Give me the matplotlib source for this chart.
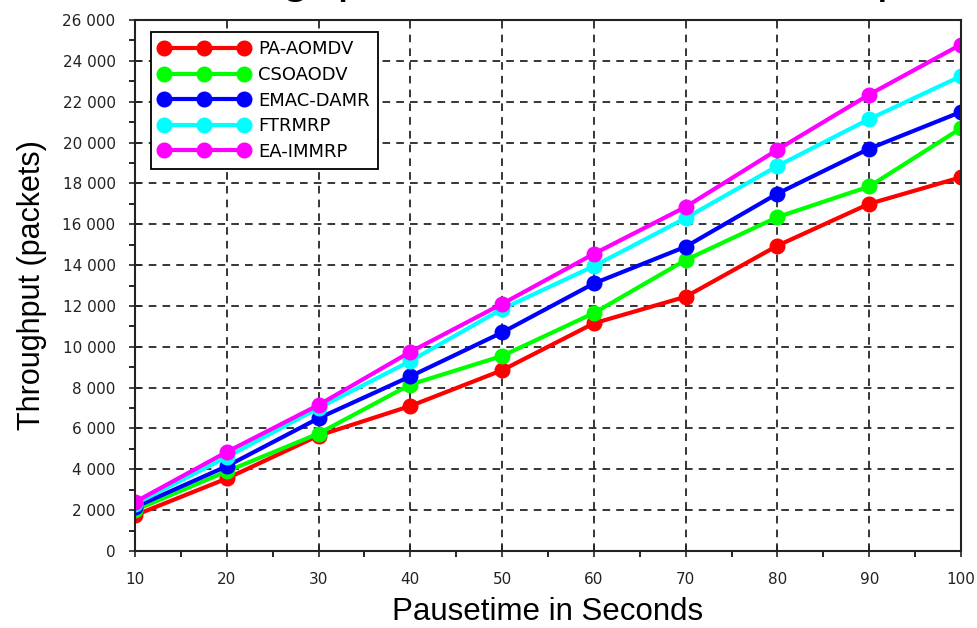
import numpy as np
import matplotlib
matplotlib.use("Agg")
import matplotlib.pyplot as plt
from matplotlib.ticker import MultipleLocator, FuncFormatter

plt.rcParams['font.family'] = ['Liberation Sans', 'DejaVu Sans']

pausetime = [10, 20, 30, 40, 50, 60, 70, 80, 90, 100]
pa_aomdv = [1750, 3550, 5650, 7100, 8850, 11150, 12450, 14950, 17000, 18300]
csoaodv = [2000, 3900, 5750, 8150, 9550, 11650, 14250, 16350, 17850, 20700]
emac_damr = [2150, 4150, 6500, 8550, 10700, 13100, 14900, 17500, 19700, 21500]
ftrmrp = [2300, 4600, 7000, 9300, 11850, 13950, 16300, 18850, 21150, 23250]
ea_immrp = [2400, 4850, 7150, 9750, 12100, 14550, 16850, 19650, 22350, 24800]

series = [
    ("PA-AOMDV", pa_aomdv, "#ff0000"),
    ("CSOAODV", csoaodv, "#00ff00"),
    ("EMAC-DAMR", emac_damr, "#0000ff"),
    ("FTRMRP", ftrmrp, "#00ffff"),
    ("EA-IMMRP", ea_immrp, "#ff00ff"),
]

fig = plt.figure(figsize=(9.78, 6.28), dpi=100)
ax = fig.add_axes([135 / 978, 1 - 551 / 628, 826 / 978, 531 / 628])

for name, vals, col in series:
    ax.plot(pausetime, vals, color=col, lw=3, marker='o', markersize=10.5,
            label=name)

ax.set_xlim(10, 100)
ax.set_ylim(0, 26000)
ax.xaxis.set_major_locator(MultipleLocator(10))
ax.xaxis.set_minor_locator(MultipleLocator(5))
ax.yaxis.set_major_locator(MultipleLocator(2000))
ax.yaxis.set_minor_locator(MultipleLocator(1000))
ax.yaxis.set_major_formatter(FuncFormatter(lambda v, p: f"{int(v):,}".replace(",", " ")))

ax.grid(True, which='major', color='black', linestyle=(0, (5, 4)), lw=1.1)
ax.tick_params(axis='both', which='major', direction='inout', length=8, width=1.2,
               colors='#222222')
ax.tick_params(axis='both', which='minor', direction='out', length=4, width=1.2)
ax.tick_params(axis='x', pad=11)
ax.tick_params(axis='y', pad=10)
for lbl in ax.get_xticklabels() + ax.get_yticklabels():
    lbl.set_fontfamily('DejaVu Sans')
    lbl.set_fontsize(11)
for s in ax.spines.values():
    s.set_linewidth(1.5)
    s.set_color('#222222')

ax.set_xlabel("Pausetime in Seconds", fontsize=22.5, labelpad=7)
ax.set_ylabel("Throughput (packets)", fontsize=22, labelpad=11)

leg = ax.legend(loc='upper left', numpoints=3, handlelength=5.0,
                prop={'family': 'DejaVu Sans', 'size': 13},
                fancybox=False, framealpha=1, edgecolor='black',
                bbox_to_anchor=(0.019, 0.977), borderaxespad=0, labelspacing=0.42,
                handletextpad=0.5, borderpad=0.45)
leg.get_frame().set_linewidth(1.3)

# title sits mostly above the figure edge, as in the source image
fig.text(151 / 978, 1 + 8 / 628, "Throughput Vs Pause Time Comparison",
         fontsize=36, ha='left', va='baseline')

fig.savefig("out.png", dpi=100)
